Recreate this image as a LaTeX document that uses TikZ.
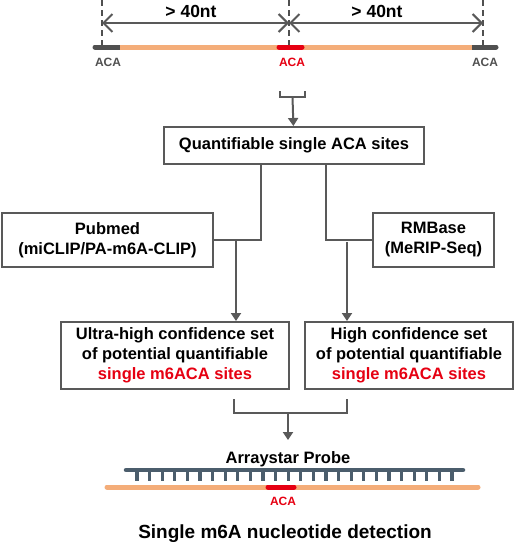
\documentclass[tikz,border=0pt]{standalone}
\usepackage{fontspec}
\setmainfont{Liberation Sans}
\usetikzlibrary{arrows.meta}
\definecolor{linegray}{HTML}{595959}
\definecolor{endgray}{HTML}{505050}
\definecolor{strandorange}{HTML}{F4AD79}
\definecolor{acared}{HTML}{E60012}
\definecolor{probeblue}{HTML}{4B5D6C}

\begin{document}
\begin{tikzpicture}[x=1pt,y=-1pt,
  box/.style={draw=linegray,line width=2pt,fill=white,align=center,inner sep=0pt,
    font=\fontsize{16.5}{20}\selectfont\bfseries},
  link/.style={draw=linegray,line width=2pt},
  arr/.style={link,-{Triangle[length=8pt,width=10pt]}},
  span/.style={link,{Straight Barb[length=9pt,width=18pt]}-{Straight Barb[length=9pt,width=18pt]}},
  guide/.style={draw=endgray,line width=1.5pt,dash pattern=on 6pt off 4pt},
  strand/.style={line width=5pt,line cap=round},
  tag/.style={font=\fontsize{12}{13}\selectfont\bfseries}]

  \useasboundingbox (0,0) rectangle (518,546);

  \draw[guide] (102,0) -- (102,45);
  \draw[guide] (289,0) -- (289,49);
  \draw[guide] (483,0) -- (483,45);

  \draw[strand,endgray] (95,47) -- (496,47);
  \draw[strand,strandorange,line cap=butt] (120,47) -- (472,47);
  \draw[strand,acared] (279,47) -- (302,47);

  \coordinate (spanl) at (102,23);
  \coordinate (spanm) at (289,23);
  \coordinate (spanr) at (483,23);
  \draw[span] (spanl) -- (spanm);
  \draw[span] (spanm) -- (spanr);

  \draw (191,11) node[font=\fontsize{17.5}{20}\selectfont\bfseries] (gapl) {> 40nt};
  \draw (377,11) node[font=\fontsize{17.5}{20}\selectfont\bfseries] (gapr) {> 40nt};

  \draw (108,62) node[tag,text=endgray] (acal) {ACA};
  \draw (292,62) node[tag,text=acared] (acam) {ACA};
  \draw (485,62) node[tag,text=endgray] (acar) {ACA};

  \draw (294,145.5) node[box,minimum width=260pt,minimum height=37pt] (quant) {Quantifiable single ACA sites};
  \draw (107.5,240) node[box,minimum width=211pt,minimum height=54pt] (pubmed) {Pubmed\\(miCLIP/PA-m6A-CLIP)};
  \draw (433.5,240) node[box,minimum width=121pt,minimum height=54pt] (rmbase) {RMBase\\(MeRIP-Seq)};
  \draw (175,355.5) node[box,minimum width=228pt,minimum height=67pt] (ultra)
    {Ultra-high confidence set\\of potential quantifiable\\\textcolor{acared}{single m6ACA sites}};
  \draw (409,355.5) node[box,minimum width=208pt,minimum height=67pt] (high)
    {High confidence set\\of potential quantifiable\\\textcolor{acared}{single m6ACA sites}};

  \coordinate (split) at (292.5,97);
  \draw[link] (280,91) |- (split) -| (305,91);
  \draw[arr] (split) -- (quant);

  \coordinate (joinl) at (261,240);
  \coordinate (joinr) at (326,242);
  \draw[link] (quant.south -| joinl) |- (pubmed);
  \draw[link] (quant.south -| joinr) |- (rmbase);

  \coordinate (dropl) at (236,240);
  \coordinate (dropr) at (347,242);
  \draw[arr] (dropl) -- (dropl |- ultra.north);
  \draw[arr] (dropr) -- (dropr |- high.north);

  \coordinate (ultrafoot) at (234,399);
  \coordinate (highfoot) at (347,399);
  \coordinate (merge) at (288,413);
  \coordinate (probetop) at (288,440);
  \draw[link] (ultrafoot) |- (merge) -| (highfoot);
  \draw[arr] (merge) -- (probetop);

  \draw (288,459) node[font=\fontsize{16.5}{20}\selectfont\bfseries] (probe) {Arraystar Probe};
  \draw[probeblue,line width=4.5pt,line cap=round] (126,470) -- (463,470);
  \foreach \i in {0,...,25}
    \draw[probeblue,line width=3.2pt] ({137+12.6*\i},470) -- ++(0,10.5);

  \draw[strand,strandorange] (107,487) -- (478,487);
  \draw[strand,acared] (268,487) -- (294,487);
  \draw (283,501) node[tag,text=acared] (acab) {ACA};

  \draw (285,534) node[font=\fontsize{19}{22}\selectfont\bfseries] (title) {Single m6A nucleotide detection};

\end{tikzpicture}
\end{document}
